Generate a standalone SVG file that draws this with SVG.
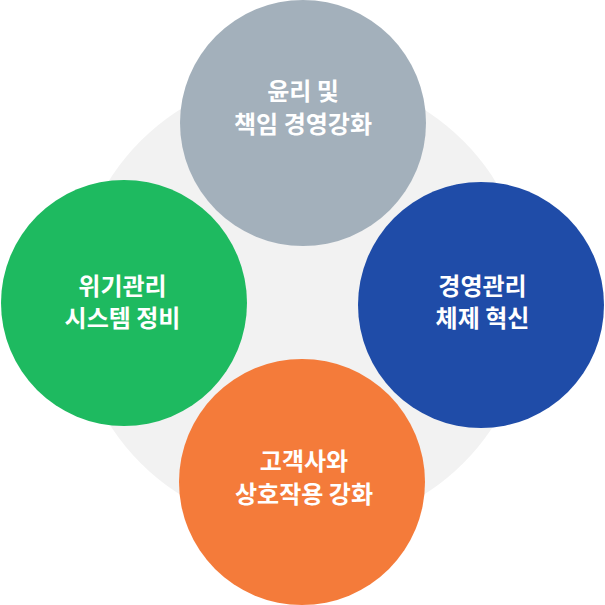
<svg xmlns="http://www.w3.org/2000/svg" width="605" height="605" viewBox="0 0 605 605">
<style>
.lbl{font-family:"Noto Sans CJK KR","Noto Sans",sans-serif;font-size:24px;font-weight:700;fill:#ffffff;text-anchor:middle}
.c{opacity:0.985}
</style>
<rect width="605" height="605" fill="#ffffff"/>
<g id="background">
<circle cx="302" cy="302" r="228" fill="#f2f2f2"/>
</g>
<g id="connectors"></g>
<g id="node-top">
<circle class="c" cx="303" cy="123" r="123" fill="#a2afba"/>
<text class="lbl" x="303" y="100">윤리 및</text>
<text class="lbl" x="303" y="133">책임 경영강화</text>
</g>
<g id="node-left">
<circle class="c" cx="124" cy="303" r="123" fill="#1ab95d"/>
<text class="lbl" x="122.5" y="294.5">위기관리</text>
<text class="lbl" x="122.5" y="327">시스템 정비</text>
</g>
<g id="node-right">
<circle class="c" cx="481" cy="305" r="123" fill="#1b49a7"/>
<text class="lbl" x="482.5" y="294.5">경영관리</text>
<text class="lbl" x="482.5" y="327">체제 혁신</text>
</g>
<g id="node-bottom">
<circle class="c" cx="302" cy="482" r="123" fill="#f47937"/>
<text class="lbl" x="304" y="470">고객사와</text>
<text class="lbl" x="304" y="503">상호작용 강화</text>
</g>
</svg>
